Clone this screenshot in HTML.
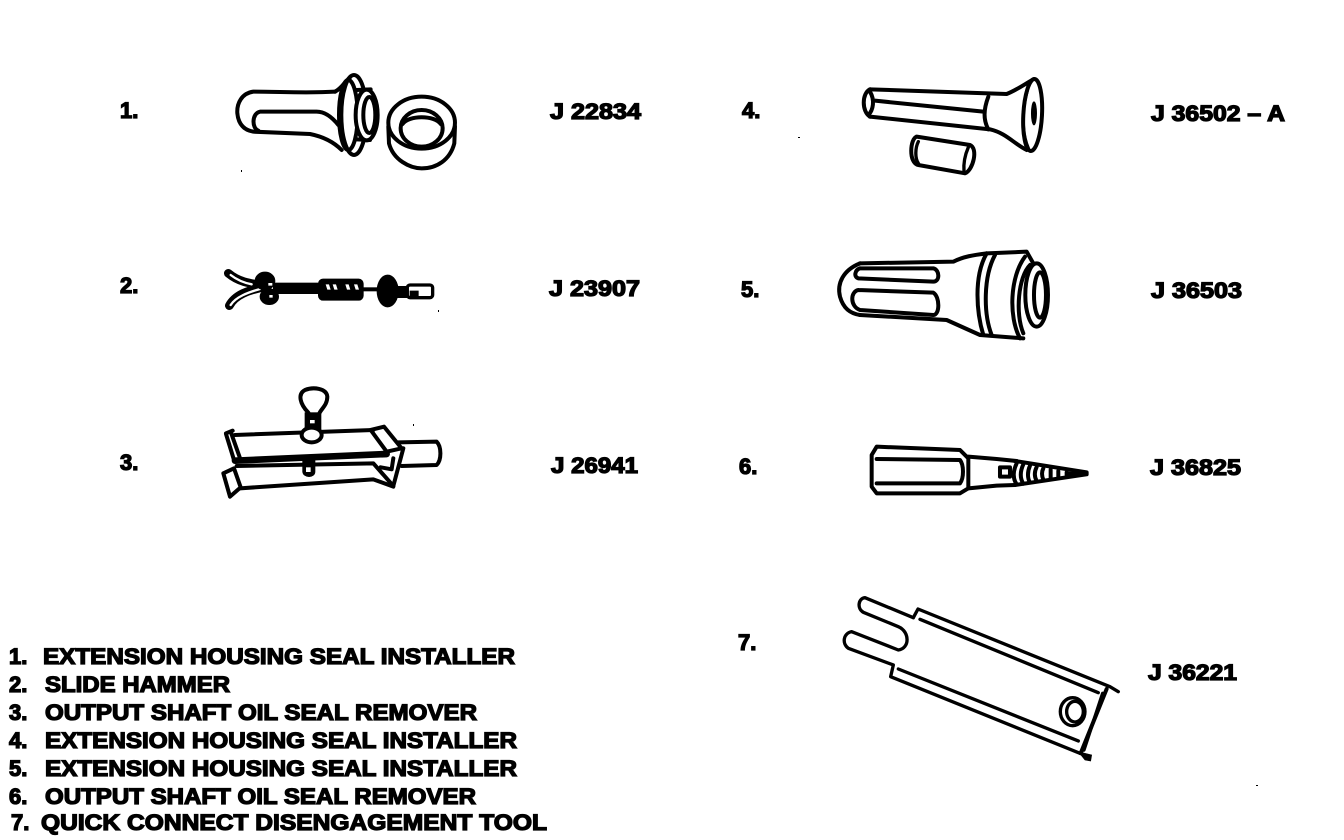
<!DOCTYPE html>
<html>
<head>
<meta charset="utf-8">
<style>
html,body{margin:0;padding:0;background:#fff;width:1344px;height:840px;overflow:hidden}
svg{display:block}
text{font-family:"Liberation Sans",sans-serif;font-weight:bold;font-size:22px;fill:#000;stroke:#000;stroke-width:1.3px}
.d{fill:none;stroke:#000;stroke-linecap:round;stroke-linejoin:round;stroke-width:12}
.t{fill:none;stroke:#000;stroke-linecap:round;stroke-linejoin:round;stroke-width:10}
.b{fill:#000;stroke:#000;stroke-width:2}
.w{fill:#fff;stroke:#000;stroke-width:12}
.m{fill:#fff;stroke:none}
</style>
</head>
<body>
<svg width="1344" height="840" viewBox="0 0 1344 840" xmlns="http://www.w3.org/2000/svg">
<rect width="1344" height="840" fill="#fff"/>

<!-- Tool 1 -->
<g transform="translate(210,60) scale(.3333)">
<path class="d" d="M375,95 C290,100 210,95 130,95 C95,100 80,130 82,160 C85,190 100,210 130,215 L300,222 C340,230 370,245 395,270"/>
<path class="d" d="M375,95 C395,85 400,70 420,52"/>
<path class="d" d="M385,195 C365,170 345,155 320,155 L150,155 C125,160 125,205 145,212"/>
<ellipse class="d" cx="432" cy="165" rx="38" ry="120"/>
<ellipse class="d" cx="415" cy="165" rx="28" ry="105"/>
<path class="d" d="M440,90 L482,88 M440,238 L480,240"/>
<ellipse class="w" cx="470" cy="165" rx="33" ry="76"/>
<ellipse class="d" cx="478" cy="165" rx="18" ry="54"/>
<path class="d" d="M535,200 L537,250 C550,300 600,325 635,325 C680,325 720,300 733,250 L735,200"/>
<ellipse class="w" cx="635" cy="188" rx="100" ry="78"/>
<ellipse class="d" cx="635" cy="205" rx="63" ry="55"/>
<path class="d" d="M578,192 C595,165 675,165 692,192"/>
</g>

<!-- Tool 2 -->
<g transform="translate(210,255) scale(.3333)">
<rect class="b" x="190" y="84" width="140" height="32"/>
<path fill="none" stroke="#000" stroke-width="26" stroke-linecap="round" d="M55,55 C85,80 115,85 165,92"/>
<path fill="none" stroke="#000" stroke-width="26" stroke-linecap="round" d="M58,152 C75,120 115,105 165,96"/>
<path fill="none" stroke="#fff" stroke-width="7" stroke-linecap="round" d="M62,60 C85,78 105,84 125,88"/>
<path fill="none" stroke="#fff" stroke-width="7" stroke-linecap="round" d="M62,150 C78,125 115,112 150,102"/>
<ellipse class="b" cx="165" cy="78" rx="30" ry="27"/>
<ellipse class="b" cx="178" cy="125" rx="28" ry="24"/>
<path class="m" d="M175,84 l12,0 0,8 -12,0 Z M178,120 l10,0 0,8 -10,0 Z"/>
<rect class="b" x="325" y="72" width="135" height="64" rx="14"/>
<path class="m" d="M347,88 l10,0 5,16 -10,0 Z M368,88 l10,0 5,16 -10,0 Z M406,88 l10,0 5,16 -10,0 Z M432,88 l10,0 5,16 -10,0 Z"/>
<rect class="b" x="460" y="98" width="50" height="10"/>
<ellipse class="b" cx="533" cy="108" rx="32" ry="48"/>
<rect class="b" x="555" y="94" width="40" height="34"/>
<rect x="592" y="90" width="76" height="38" rx="8" fill="#fff" stroke="#000" stroke-width="10"/>
<path class="b" d="M600,108 h25 v14 h-25 Z"/>
</g>

<!-- Tool 3 -->
<g transform="translate(210,380) scale(.3333)">
<path class="d" d="M295,98 C270,72 262,42 285,30 C310,20 350,25 352,50 C352,75 335,85 328,100"/>
<rect class="b" x="285" y="98" width="48" height="50"/>
<path class="m" d="M300,120 h14 v10 h-14 Z"/>
<path class="d" d="M75,165 L490,150"/>
<path class="d" style="stroke-width:20" d="M75,242 L530,222"/>
<path class="d" d="M62,155 L92,240 M48,162 L72,240 M48,160 L68,152"/>
<ellipse class="w" cx="305" cy="165" rx="30" ry="22"/>
<path class="d" d="M482,150 L522,140 L575,205 L530,215 Z"/>
<path class="d" d="M565,187 L680,185 C695,200 695,240 680,255 L575,258"/>
<path class="d" d="M80,258 L490,250 L550,318 L580,205 M512,262 L545,268 L550,235"/>
<path class="d" d="M90,325 L490,298 L550,320"/>
<path class="d" d="M40,280 L72,265 L92,322 L60,350 Z"/>
<path class="b" d="M278,225 H315 V275 C315,295 280,295 278,275 Z"/>
<path class="m" d="M288,262 h14 v14 h-14 Z"/>
</g>

<!-- Tool 4 -->
<g transform="translate(850,70) scale(.3333)">
<path class="d" d="M60,58 L470,72 C500,60 520,45 550,28"/>
<path class="d" d="M60,140 L420,178 C470,190 490,220 530,240"/>
<path class="d" d="M60,58 C35,70 35,125 60,140"/>
<path class="d" d="M60,65 C75,90 70,120 55,135"/>
<path class="d" d="M75,92 L400,125"/>
<path class="d" d="M415,80 C400,120 400,150 415,178"/>
<ellipse class="w" cx="548" cy="135" rx="28" ry="108" transform="rotate(3 548 135)"/>
<path class="t" d="M532,60 C515,120 515,190 535,235"/>
<ellipse class="b" cx="552" cy="130" rx="8" ry="35"/>
<path class="d" d="M200,200 L360,225 C385,235 370,300 345,310 L205,285 C175,280 180,205 200,200"/>
<path class="t" d="M205,215 C195,235 195,265 205,280 M355,232 C345,255 340,280 342,305"/>
</g>

<!-- Tool 5 -->
<g transform="translate(830,240) scale(.3333)">
<path class="d" d="M90,70 L370,65 C400,50 430,45 470,40 L590,35 L610,70"/>
<path class="d" d="M90,225 L350,240 L450,285 L580,295"/>
<path class="d" d="M90,70 C40,90 20,130 30,170 C40,205 60,220 90,225"/>
<path class="d" d="M90,85 L310,85 C330,90 330,125 310,125 L85,115 C70,110 75,90 90,85"/>
<path class="d" d="M85,150 L310,158 C330,170 330,225 310,225 L90,210 C60,200 60,155 85,150"/>
<path class="d" d="M470,40 C430,110 440,220 460,285"/>
<path class="d" d="M495,45 C460,110 460,220 485,285"/>
<path class="d" d="M585,50 C540,110 535,230 570,295"/>
<path class="d" d="M600,75 C565,110 555,220 580,280"/>
<ellipse class="w" cx="620" cy="165" rx="34" ry="95"/>
<ellipse class="d" cx="630" cy="165" rx="18" ry="68"/>
</g>

<!-- Tool 6 -->
<g transform="translate(860,435) scale(.3333)">
<path class="d" d="M50,35 L300,45 L325,70 L325,160 L300,175 L50,175 L35,155 L35,60 Z"/>
<path class="d" d="M50,72 L300,75 C312,90 312,130 300,145 L50,145"/>
<path class="d" d="M325,65 L410,72 L470,78 M325,160 L410,152 L465,150"/>
<rect class="d" x="420" y="97" width="30" height="28"/>
<path class="d" d="M465,78 L680,112 L680,118 L465,150"/>
<path class="d" d="M470,85 C458,110 458,130 470,148 M490,88 C480,110 480,130 490,146 M510,92 C502,110 502,130 510,142 M530,96 C523,110 523,125 530,138 M550,100 C545,110 545,122 550,134 M572,104 V130 M595,108 V125 M620,112 V120"/>
<path class="d" style="stroke-width:10" d="M620,115 H680"/>
</g>

<!-- Tool 7 -->
<g transform="translate(830,585) scale(.3333)">
<path class="t" d="M250,98 L105,38 C85,40 80,70 100,82 L205,125 C240,140 240,190 205,195 L65,140 C40,145 35,175 55,190 L190,240 L182,275 L750,505"/>
<path class="t" d="M250,98 L264,72 L840,305 L865,320"/>
<path class="t" d="M270,103 L805,323 M205,252 L745,468"/>
<path class="d" d="M830,312 L752,505"/>
<path class="t" d="M818,325 L762,495"/>
<path class="b" d="M745,500 L785,510 L782,528 L765,525 Z"/>
<ellipse class="t" cx="728" cy="380" rx="37" ry="42"/>
<ellipse class="t" cx="735" cy="380" rx="25" ry="31"/>
</g>

<!-- Specks -->
<rect x="241" y="170" width="1" height="2" fill="#000"/>
<rect x="798" y="137" width="2" height="1" fill="#000"/>
<rect x="438" y="310" width="1" height="2" fill="#000"/>
<rect x="413" y="424" width="1" height="2" fill="#000"/>
<rect x="1256" y="785" width="2" height="1" fill="#000"/>

<!-- Number labels -->
<text x="120" y="118">1.</text>
<text x="120" y="293">2.</text>
<text x="120" y="470">3.</text>
<text x="742" y="118">4.</text>
<text x="741" y="297">5.</text>
<text x="739" y="474">6.</text>
<text x="738" y="650">7.</text>

<!-- Part numbers -->
<text x="550" y="119" textLength="91" lengthAdjust="spacingAndGlyphs">J 22834</text>
<text x="549" y="296" textLength="91" lengthAdjust="spacingAndGlyphs">J 23907</text>
<text x="551" y="473" textLength="87" lengthAdjust="spacingAndGlyphs">J 26941</text>
<text x="1151" y="121" textLength="134" lengthAdjust="spacingAndGlyphs">J 36502 – A</text>
<text x="1151" y="298" textLength="91" lengthAdjust="spacingAndGlyphs">J 36503</text>
<text x="1150" y="475" textLength="91" lengthAdjust="spacingAndGlyphs">J 36825</text>
<text x="1148" y="680" textLength="89" lengthAdjust="spacingAndGlyphs">J 36221</text>

<!-- Legend -->
<text x="9" y="664">1.</text>
<text x="43" y="664" textLength="472" lengthAdjust="spacingAndGlyphs">EXTENSION HOUSING SEAL INSTALLER</text>
<text x="9" y="692">2.</text>
<text x="45" y="692" textLength="185" lengthAdjust="spacingAndGlyphs">SLIDE HAMMER</text>
<text x="9" y="720">3.</text>
<text x="45" y="720" textLength="432" lengthAdjust="spacingAndGlyphs">OUTPUT SHAFT OIL SEAL REMOVER</text>
<text x="9" y="748">4.</text>
<text x="45" y="748" textLength="472" lengthAdjust="spacingAndGlyphs">EXTENSION HOUSING SEAL INSTALLER</text>
<text x="9" y="776">5.</text>
<text x="45" y="776" textLength="472" lengthAdjust="spacingAndGlyphs">EXTENSION HOUSING SEAL INSTALLER</text>
<text x="9" y="804">6.</text>
<text x="45" y="804" textLength="431" lengthAdjust="spacingAndGlyphs">OUTPUT SHAFT OIL SEAL REMOVER</text>
<text x="11" y="830">7.</text>
<text x="41" y="830" textLength="506" lengthAdjust="spacingAndGlyphs">QUICK CONNECT DISENGAGEMENT TOOL</text>
</svg>
</body>
</html>
